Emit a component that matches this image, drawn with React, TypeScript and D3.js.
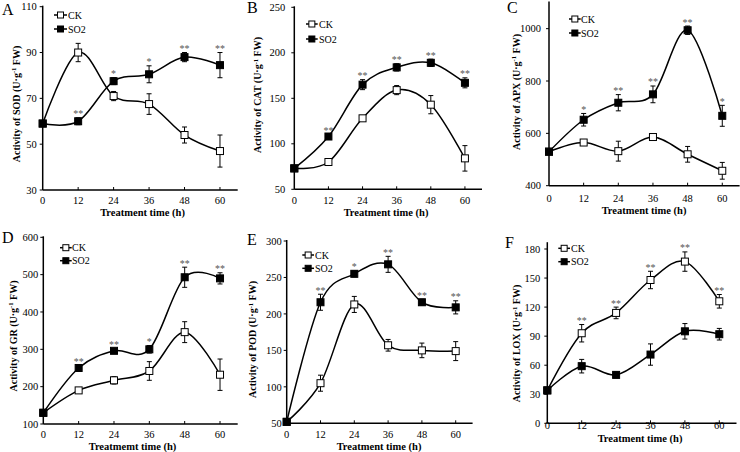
import React from "react";
import * as d3 from "d3";

const times = [0, 12, 24, 36, 48, 60];

// A: SOD
const sodCK = [59, 90, 71, 67.5, 54, 47];
const sodCKErr = [1, 4, 2, 4.5, 3.5, 7];
const sodSO2 = [59, 60, 77.5, 80.5, 88, 84.5];
const sodSO2Err = [1, 1.5, 1.5, 3.7, 2, 5.5];
const sodSig = ["", "**", "*", "*", "**", "**"];

// B: CAT
const catCK = [73, 80, 128, 159, 143, 84];
const catCKErr = [1, 3.5, 2, 5, 10, 14];
const catSO2 = [73, 108, 165, 184, 189, 167];
const catSO2Err = [1, 2, 5.5, 4, 4, 5.5];
const catSig = ["", "**", "**", "**", "**", "**"];

// C: APX
const apxCK = [530, 565, 532, 586, 520, 457];
const apxCKErr = [5, 7, 38, 6, 30, 32];
const apxSO2 = [530, 652, 717, 749, 994, 667];
const apxSO2Err = [5, 24, 31, 32, 16, 40];
const apxSig = ["", "*", "**", "**", "**", "*"];

// D: GR
const grCK = [130, 190, 217, 242, 346, 232];
const grCKErr = [3, 5, 10, 25, 28, 42];
const grSO2 = [130, 250, 296, 300, 493, 490];
const grSO2Err = [3, 6, 6, 10, 27, 15];
const grSig = ["", "**", "**", "*", "**", "**"];

// E: POD
const podCK = [52, 105, 213, 157, 150, 149];
const podCKErr = [2, 11, 11, 8, 10, 13];
const podSO2 = [52, 216, 255, 268, 216, 209];
const podSO2Err = [2, 11, 4, 11, 4, 9];
const podSig = ["", "**", "*", "**", "**", "**"];

// F: LOX
const loxCK = [34, 93, 114, 148, 167, 126];
const loxCKErr = [3, 9, 6, 9, 10, 7];
const loxSO2 = [34, 59, 50, 71, 95, 92];
const loxSO2Err = [3, 7, 3, 11, 8, 6];
const loxSig = ["", "**", "**", "**", "**", "**"];

const seriesNames = ["CK", "SO2"];

const panels = [
  { letter: "A", enzyme: "SOD", xTitle: "Treatment time (h)", ck: sodCK, ckErr: sodCKErr, so2: sodSO2, so2Err: sodSO2Err, sig: sodSig, sigOn: "SO2", yMin: 30, yMax: 110, ticks: [30, 50, 70, 90, 110] },
  { letter: "B", enzyme: "CAT", xTitle: "Treatment time (h)", ck: catCK, ckErr: catCKErr, so2: catSO2, so2Err: catSO2Err, sig: catSig, sigOn: "SO2", yMin: 50, yMax: 250, ticks: [50, 100, 150, 200, 250] },
  { letter: "C", enzyme: "APX", xTitle: "Treatment time (h)", ck: apxCK, ckErr: apxCKErr, so2: apxSO2, so2Err: apxSO2Err, sig: apxSig, sigOn: "SO2", yMin: 400, yMax: 1100, ticks: [400, 600, 800, 1000] },
  { letter: "D", enzyme: "GR", xTitle: "Treatmemt time (h)", ck: grCK, ckErr: grCKErr, so2: grSO2, so2Err: grSO2Err, sig: grSig, sigOn: "SO2", yMin: 100, yMax: 600, ticks: [100, 200, 300, 400, 500, 600] },
  { letter: "E", enzyme: "POD", xTitle: "Treatment time (h)", ck: podCK, ckErr: podCKErr, so2: podSO2, so2Err: podSO2Err, sig: podSig, sigOn: "SO2", yMin: 50, yMax: 300, ticks: [50, 100, 150, 200, 250, 300] },
  { letter: "F", enzyme: "LOX", xTitle: "Treatment time (h)", ck: loxCK, ckErr: loxCKErr, so2: loxSO2, so2Err: loxSO2Err, sig: loxSig, sigOn: "CK", yMin: 0, yMax: 186, ticks: [0, 30, 60, 90, 120, 150, 180] },
];

// pixel layout per panel
const layouts = [
  { x0: 42.7, x66: 237.7, yBot: 190, yTop: 6.7, gap: 6, xtY: 200.7, xTitleX: 142.5, xTitleY: 212.2, yTitleX: 16, yTitleY: 104, lx: 2, ly: 14.5, legX0: 54, legX1: 67, legTX: 68, legY: [15, 29] },
  { x0: 294.3, x66: 482, yBot: 189.3, yTop: 7.3, gap: 9, xtY: 200.7, xTitleX: 386, xTitleY: 212.2, yTitleX: 257.5, yTitleY: 95, lx: 247, ly: 13, legX0: 306, legX1: 317.7, legTX: 319, legY: [24, 39] },
  { x0: 549, x66: 739.6, yBot: 185.7, yTop: 2.5, gap: 8, xtY: 198.3, xTitleX: 644, xTitleY: 210.8, yTitleX: 516, yTitleY: 92, lx: 507, ly: 13, legX0: 569, legX1: 580.7, legTX: 581, legY: [19, 33] },
  { x0: 43.3, x66: 237.7, yBot: 424, yTop: 237.3, gap: 5, xtY: 434.7, xTitleX: 132.5, xTitleY: 446.2, yTitleX: 13, yTitleY: 336, lx: 2, ly: 243, legX0: 60, legX1: 71.7, legTX: 72, legY: [247.7, 260.7] },
  { x0: 286.7, x66: 472.6, yBot: 423.3, yTop: 241, gap: 5, xtY: 434, xTitleX: 379, xTitleY: 446, yTitleX: 252.5, yTitleY: 339.5, lx: 247, ly: 245, legX0: 302.3, legX1: 314, legTX: 315, legY: [255, 268.3] },
  { x0: 547.3, x66: 736.5, yBot: 423.3, yTop: 243.2, gap: 7, xtY: 425.7, xTitleX: 640, xTitleY: 438, yTitleX: 516.5, yTitleY: 343.5, lx: 505, ly: 248, legX0: 558.3, legX1: 570, legTX: 571, legY: [248.3, 261.7] },
];

const FONT = "'Liberation Serif', 'Times New Roman', serif";
const MS = 7; // marker size

function Panel({ p, L }: { p: any; L: any }) {
  const x = d3.scaleLinear().domain([0, 66]).range([L.x0, L.x66]);
  const y = d3.scaleLinear().domain([p.yMin, p.yMax]).range([L.yBot, L.yTop]);
  const line = d3
    .line<number>()
    .x((_, i) => x(times[i]))
    .y((d) => y(d))
    .curve(d3.curveCardinal.tension(0));

  const series = [
    { name: "CK", vals: p.ck, errs: p.ckErr, fill: "#fff" },
    { name: "SO2", vals: p.so2, errs: p.so2Err, fill: "#000" },
  ];
  const sigSeries = series.find((s) => s.name === p.sigOn)!;

  return (
    <g>
      {series.map((s) => (
        <path key={s.name + "l"} d={line(s.vals) || ""} fill="none" stroke="#000" strokeWidth={1.5} />
      ))}
      {series.map((s) =>
        s.vals.map((v: number, i: number) => {
          const cx = x(times[i]);
          const y1 = y(v + s.errs[i]);
          const y2 = y(v - s.errs[i]);
          return (
            <g key={s.name + "e" + i} stroke="#000" strokeWidth={1}>
              <line x1={cx} x2={cx} y1={y1} y2={y2} />
              <line x1={cx - 2.5} x2={cx + 2.5} y1={y1} y2={y1} />
              <line x1={cx - 2.5} x2={cx + 2.5} y1={y2} y2={y2} />
            </g>
          );
        })
      )}
      {series.map((s) =>
        s.vals.map((v: number, i: number) => (
          <rect
            key={s.name + "m" + i}
            x={x(times[i]) - MS / 2}
            y={y(v) - MS / 2}
            width={MS}
            height={MS}
            fill={s.fill}
            stroke="#000"
            strokeWidth={1}
          />
        ))
      )}
      {p.sig.map((t: string, i: number) =>
        t ? (
          <text
            key={"s" + i}
            x={x(times[i])}
            y={y(sigSeries.vals[i] + sigSeries.errs[i]) - 0.5}
            textAnchor="middle"
            fontSize={10}
            fontFamily={FONT}
            fill="#555"
          >
            {t}
          </text>
        ) : null
      )}
      {/* axes */}
      <line x1={L.x0} x2={L.x0} y1={L.yTop - 1} y2={L.yBot} stroke="#000" strokeWidth={1.5} />
      <line x1={L.x0} x2={L.x66} y1={L.yBot} y2={L.yBot} stroke="#000" strokeWidth={1.5} />
      {p.ticks.map((t: number) => (
        <g key={"yt" + t}>
          <line x1={L.x0 - 3} x2={L.x0} y1={y(t)} y2={y(t)} stroke="#000" strokeWidth={1} />
          <text x={L.x0 - L.gap} y={y(t)} dy="0.35em" textAnchor="end" fontSize={10.5} fontFamily={FONT} fill="#000">
            {t}
          </text>
        </g>
      ))}
      {times.map((t) => (
        <g key={"xt" + t}>
          {t > 0 && <line x1={x(t)} x2={x(t)} y1={L.yBot - 3} y2={L.yBot} stroke="#000" strokeWidth={1} />}
          <text x={x(t)} y={L.xtY} dy="0.35em" textAnchor="middle" fontSize={10.5} fontFamily={FONT} fill="#000">
            {t}
          </text>
        </g>
      ))}
      <text x={L.xTitleX} y={L.xTitleY} dy="0.35em" textAnchor="middle" fontSize={10.5} fontWeight="bold" fontFamily={FONT} fill="#000">
        {p.xTitle}
      </text>
      <g transform={`translate(${L.yTitleX},${L.yTitleY}) rotate(-90)`}>
        <text x={0} y={0} dy="0.35em" textAnchor="middle" fontSize={10} fontWeight="bold" fontFamily={FONT} fill="#000">
          {`Activity of ${p.enzyme} (U·g`}
          <tspan fontSize={6.5} dy={-3.5}>-1</tspan>
          <tspan dy={3.5}> FW)</tspan>
        </text>
      </g>
      <text x={L.lx} y={L.ly} fontSize={16} fontFamily={FONT} fill="#000">
        {p.letter}
      </text>
      {/* legend */}
      {series.map((s, k) => {
        const ly = L.legY[k];
        const mx = (L.legX0 + L.legX1) / 2;
        return (
          <g key={"leg" + k}>
            <line x1={L.legX0} x2={L.legX1} y1={ly} y2={ly} stroke="#000" strokeWidth={1.5} />
            <rect x={mx - 3} y={ly - 3} width={6} height={6} fill={s.fill} stroke="#000" strokeWidth={1} />
            <text x={L.legTX} y={ly} dy="0.35em" fontSize={10} fontFamily={FONT} fill="#000">
              {seriesNames[k]}
            </text>
          </g>
        );
      })}
    </g>
  );
}

export default function App() {
  return (
    <svg
      width={740}
      height={452}
      style={{ position: "absolute", left: 0, top: 0, background: "#fff" }}
      xmlns="http://www.w3.org/2000/svg"
    >
      <rect x={0} y={0} width={740} height={452} fill="#fff" />
      {panels.map((p, i) => (
        <Panel key={p.letter} p={p} L={layouts[i]} />
      ))}
    </svg>
  );
}
